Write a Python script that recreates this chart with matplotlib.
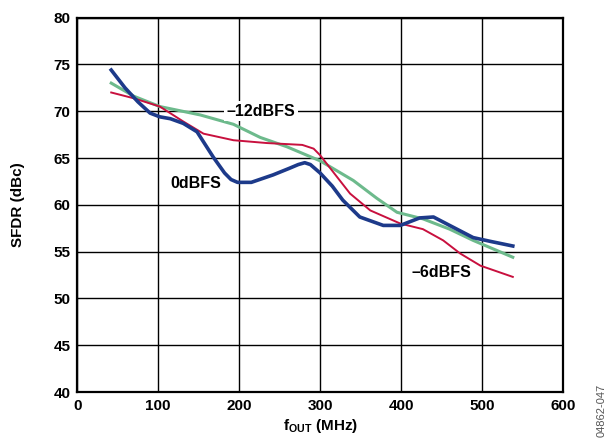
import matplotlib.pyplot as plt

plt.rcParams["font.family"] = ["Liberation Sans", "DejaVu Sans"]
plt.rcParams["font.weight"] = "bold"
plt.rcParams["mathtext.fontset"] = "custom"
plt.rcParams["mathtext.rm"] = "Liberation Sans:bold"
plt.rcParams["mathtext.bf"] = "Liberation Sans:bold"
plt.rcParams["mathtext.it"] = "Liberation Sans:bold"

# 0dBFS
f_0db = [42, 59, 75, 90, 102, 115, 131, 148, 168, 182, 190, 198, 215, 242, 262, 273, 281, 288,
         300, 315, 328, 349, 378, 399, 423, 440, 460, 489, 510, 538]
sfdr_0db = [74.4, 72.5, 71.0, 69.8, 69.4, 69.2, 68.7, 67.8, 65.1, 63.4, 62.7, 62.4, 62.4, 63.2,
            63.9, 64.3, 64.5, 64.3, 63.4, 62.0, 60.5, 58.7, 57.8, 57.8, 58.6, 58.7, 57.8, 56.5,
            56.1, 55.6]

# -6dBFS
f_6db = [42, 69, 102, 131, 156, 193, 234, 278, 292, 300, 318, 337, 362, 399, 427, 452, 473,
         498, 538]
sfdr_6db = [72.0, 71.4, 70.5, 68.9, 67.6, 66.9, 66.6, 66.4, 66.0, 65.3, 63.3, 61.2, 59.4, 58.0,
            57.4, 56.2, 54.8, 53.5, 52.3]

# -12dBFS
f_12db = [42, 70, 102, 152, 193, 226, 259, 300, 341, 370, 395, 427, 460, 489, 538]
sfdr_12db = [73.0, 71.6, 70.5, 69.6, 68.6, 67.2, 66.2, 64.7, 62.6, 60.7, 59.2, 58.5, 57.4,
             56.2, 54.4]

fig = plt.figure(figsize=(6.08, 4.4), dpi=100)
ax = fig.add_axes([0.127, 0.109, 0.799, 0.851])

ax.plot(f_12db, sfdr_12db, color="#6dba8c", lw=2.2, zorder=3)
ax.plot(f_6db, sfdr_6db, color="#c8103e", lw=1.4, zorder=4)
ax.plot(f_0db, sfdr_0db, color="#1d3a8a", lw=2.6, zorder=5)

ax.set_xlim(0, 600)
ax.set_ylim(40, 80)
ax.set_xticks(range(0, 601, 100))
ax.set_yticks(range(40, 81, 5))
ax.grid(True, color="black", lw=1.0)
ax.tick_params(length=0, labelsize=11, pad=5)
for s in ax.spines.values():
    s.set_linewidth(1.6)

ax.set_xlabel(r"f$_{\mathrm{OUT}}$ (MHz)", fontsize=11, fontweight="bold", labelpad=3)
ax.set_ylabel("SFDR (dBc)", fontsize=11, fontweight="bold", labelpad=20)

ax.text(227, 70.0, "–12dBFS", ha="center", va="center", fontsize=11.5, fontweight="bold",
        bbox=dict(facecolor="white", edgecolor="none", pad=2), zorder=6)
ax.text(146, 62.3, "0dBFS", ha="center", va="center", fontsize=11.5, fontweight="bold", zorder=6)
ax.text(450, 52.8, "–6dBFS", ha="center", va="center", fontsize=11.5, fontweight="bold", zorder=6)

fig.text(0.99, 0.007, "04862-047", rotation=90, ha="center", va="bottom", fontsize=8,
         color="#555555", fontweight="normal")

fig.savefig("out.png", dpi=100)
